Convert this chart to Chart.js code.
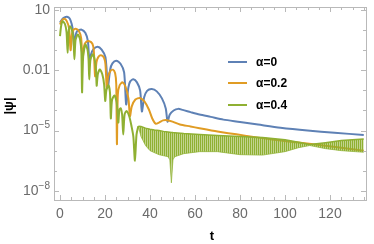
<!DOCTYPE html>
<html>
<head>
<meta charset="utf-8">
<script src="https://cdn.jsdelivr.net/npm/chart.js@4.4.1/dist/chart.umd.min.js"></script>
<style>
  html, body { margin: 0; padding: 0; background: #fff; }
  #wrap { width: 374px; height: 244px; }
</style>
</head>
<body>
<div id="wrap"><canvas id="psiChart" width="374" height="244"></canvas></div>
<script>
// --- DONNEES ---
const seriesLabels = ["α=0", "α=0.2", "α=0.4"];
const seriesColors = ["rgb(94,129,181)", "rgb(224,156,36)", "rgb(143,176,50)"];

const blueT = [0, 1.0, 2.0, 3.1, 4.3, 5.2, 5.8, 6.3, 6.8, 7.6, 9.6, 11.3, 12.4, 13.1, 13.8, 14.8, 16.7, 18.5, 20.2, 21.3,
  22.3, 23.3, 25.0, 26.9, 28.5, 29.4, 30.4, 31.2, 32.6, 34.2, 35.6, 36.4, 37.4, 38.7, 40.8, 43.0, 45.3, 47.0, 47.8,
  48.8, 50.5, 52.5, 54.5, 58, 62, 67, 72.6, 80, 88, 98, 110, 122, 135];
const blueY = [2.4, 3.5, 4.3, 4.6, 3.8, 2.0, 0.79, 0.13, 0.45, 0.89, 1.05, 0.71, 0.28, 0.025, 0.063, 0.11, 0.15, 0.107, 0.045, 1.6e-3,
  0.011, 0.022, 0.030, 0.021, 7.9e-3, 2.0e-4, 1.4e-3, 2.8e-3, 3.6e-3, 2.5e-3, 1.0e-3, 8.9e-5, 4.5e-4, 9.5e-4, 1.17e-3, 8.9e-4, 4.0e-4, 1.26e-4, 2.8e-5,
  6.3e-5, 1.0e-4, 1.2e-4, 1.07e-4, 8.3e-5, 6.3e-5, 4.8e-5, 3.5e-5, 2.7e-5, 2.0e-5, 1.38e-5, 1.0e-5, 7.8e-6, 6.0e-6];

const orangeT = [0, 0.8, 1.9, 3.0, 4.0, 4.7, 5.3, 5.9, 7.0, 8.4, 9.4, 10.0, 10.7, 11.5, 13.0, 14.4, 15.0, 15.6, 16.2, 17.0,
  18.2, 19.5, 20.2, 20.8, 21.4, 22.3, 23.5, 24.5, 25.0, 25.3, 25.7, 26.5, 27.8, 29.2, 30.4, 31.1, 31.9, 33.5, 35.5,
  37.5, 39.5, 41.0, 42.5, 44.0, 45.8, 47.5, 50.0, 53.3, 58, 62, 70, 83, 95, 105, 112.6, 125, 135];
const orangeY = [1.9, 3.0, 3.7, 2.8, 1.26, 0.1, 0.63, 1.0, 1.17, 0.89, 0.4, 0.032, 0.16, 0.25, 0.28, 0.21, 0.1, 5.0e-3, 0.025, 0.045,
  0.056, 0.043, 0.020, 1.26e-3, 5.0e-3, 8.9e-3, 0.0107, 7.1e-3, 2.0e-3, 2.1e-6, 6.3e-4, 1.8e-3, 2.5e-3, 1.4e-3, 4.0e-4, 5.2e-5, 1.6e-4, 3.5e-4, 4.2e-4,
  2.8e-4, 1.12e-4, 4.0e-5, 2.2e-5, 2.5e-5, 3.2e-5, 3.3e-5, 2.8e-5, 2.0e-5, 1.6e-5, 1.3e-5, 8.9e-6, 5.4e-6, 3.5e-6, 2.6e-6, 2.1e-6, 1.4e-6, 1.0e-6];

const greenT = [0, 0.5, 1.2, 2.2, 2.9, 3.4, 3.8, 4.4, 5.3, 6.0, 6.4, 6.9, 7.9, 8.9, 9.5, 9.8, 10.3, 11.3, 12.2, 12.7,
  13.0, 13.5, 14.5, 15.4, 16.0, 16.3, 16.8, 17.7, 18.8, 19.6, 20.1, 20.6, 21.5, 22.2, 22.6, 23.1, 24.2, 25.2, 25.9,
  26.4, 27.0, 27.6, 28.1, 28.7, 29.6, 30.8, 31.8, 32.6, 33.3, 34.0, 34.8];
const greenY = [0.5, 1.6, 2.75, 2.0, 0.79, 0.074, 0.79, 1.55, 1.0, 0.32, 0.035, 0.32, 0.6, 0.35, 0.079, 7.9e-4, 0.05, 0.19, 0.11, 0.032,
  3.5e-3, 0.032, 0.062, 0.035, 0.01, 1.7e-3, 6.3e-3, 0.011, 6.3e-3, 2.0e-3, 3.0e-4, 1.0e-3, 1.8e-3, 7.9e-4, 4.0e-5, 3.2e-4, 5.6e-4, 2.5e-4, 2.5e-5,
  1.1e-4, 1.3e-4, 6.3e-5, 6.3e-6, 6.3e-5, 9.3e-5, 5.0e-5, 1.6e-5, 5.0e-6, 3.2e-7, 6.3e-6, 1.66e-5];

// bande d'oscillation rapide (alpha=0.4) : enveloppes haute et basse
const bandT = [34.8, 36, 38, 40, 42, 44, 46, 48, 48.8, 49.5, 50.2, 51, 55, 62, 70, 80, 90, 100, 106, 111, 118, 125, 135];
const bandHi = [1.66e-5, 1.58e-5, 1.32e-5, 1.17e-5, 1.07e-5, 1.0e-5, 9.1e-6, 8.5e-6, 8.3e-6, 8.1e-6, 7.9e-6, 7.8e-6, 7.1e-6,
  6.3e-6, 5.6e-6, 5.0e-6, 4.5e-6, 3.5e-6, 2.6e-6, 2.0e-6, 2.5e-6, 3.2e-6, 3.8e-6];
const bandLo = [1.66e-5, 5.0e-6, 1.8e-6, 1.0e-6, 7.9e-7, 6.3e-7, 5.6e-7, 5.0e-7, 3.5e-7, 2.5e-8, 3.5e-7, 5.0e-7, 7.1e-7,
  8.9e-7, 8.9e-7, 6.3e-7, 6.0e-7, 8.9e-7, 1.4e-6, 1.8e-6, 1.26e-6, 1.0e-6, 8.3e-7];

const xMajor = [0, 20, 40, 60, 80, 100, 120];
const xMinor = [5, 10, 15, 25, 30, 35, 45, 50, 55, 65, 70, 75, 85, 90, 95, 105, 110, 115, 125, 130, 135];
const yDecades = [1e-8, 1e-7, 1e-6, 1e-5, 1e-4, 1e-3, 1e-2, 1e-1, 1, 10];
const yLabels = [[10, "10", ""], [0.01, "0.01", ""], [1e-5, "10", "−5"], [1e-8, "10", "−8"]];

function toPoints(ts, vs) {
  return ts.map((t, i) => ({ x: t, y: vs[i] }));
}

const frameColor = "#b9b9b9";
const labelColor = "#6b6b6b";
const fontFam = "'Liberation Sans', Arial, sans-serif";

// hachures verticales pour la bande (aspect des oscillations rapides)
function stripePattern() {
  const c = document.createElement("canvas");
  c.width = 2; c.height = 4;
  const g = c.getContext("2d");
  g.fillStyle = "rgb(143,176,50)";
  g.fillRect(0, 0, 1, 4);
  g.fillStyle = "rgba(143,176,50,0.55)";
  g.fillRect(1, 0, 1, 4);
  return g.createPattern(c, "repeat");
}

// cadre, graduations, etiquettes et legende facon Mathematica
const framePlugin = {
  id: "frame",
  afterDraw(chart) {
    const ctx = chart.ctx;
    const a = chart.chartArea;
    const xs = chart.scales.x;
    const ys = chart.scales.y;
    ctx.save();
    ctx.strokeStyle = frameColor;
    ctx.lineWidth = 1;
    ctx.strokeRect(Math.round(a.left) + 0.5, Math.round(a.top) + 0.5,
      Math.round(a.right - a.left), Math.round(a.bottom - a.top));

    ctx.beginPath();
    const tickX = (v, len) => {
      const p = Math.round(xs.getPixelForValue(v)) + 0.5;
      ctx.moveTo(p, a.bottom); ctx.lineTo(p, a.bottom - len);
      ctx.moveTo(p, a.top); ctx.lineTo(p, a.top + len);
    };
    xMajor.forEach(v => tickX(v, 5));
    xMinor.forEach(v => tickX(v, 3));
    yDecades.forEach(v => {
      const p = Math.round(ys.getPixelForValue(v)) + 0.5;
      const len = yLabels.some(l => l[0] === v) ? 5 : 3;
      ctx.moveTo(a.left, p); ctx.lineTo(a.left + len, p);
      ctx.moveTo(a.right, p); ctx.lineTo(a.right - len, p);
    });
    ctx.stroke();

    // etiquettes x
    ctx.fillStyle = labelColor;
    ctx.font = "14px " + fontFam;
    ctx.textAlign = "center";
    ctx.textBaseline = "middle";
    xMajor.forEach(v => ctx.fillText(String(v), xs.getPixelForValue(v), 214));

    // etiquettes y (avec exposants)
    ctx.textAlign = "right";
    yLabels.forEach(([v, base, sup]) => {
      const p = ys.getPixelForValue(v);
      let right = 50;
      if (sup) {
        ctx.font = "10px " + fontFam;
        ctx.fillText(sup, right, p - 5);
        right -= ctx.measureText(sup).width;
      }
      ctx.font = "14px " + fontFam;
      ctx.fillText(base, right, p);
    });

    // titres des axes
    ctx.fillStyle = "#000";
    ctx.font = "bold 13px " + fontFam;
    ctx.textAlign = "center";
    ctx.fillText("t", 212, 236);
    ctx.save();
    ctx.translate(9, 106);
    ctx.rotate(-Math.PI / 2);
    ctx.fillText("|ψ|", 0, 0);
    ctx.restore();

    // legende
    const rows = [62, 83, 105];
    ctx.textAlign = "left";
    ctx.font = "bold 12px " + fontFam;
    seriesLabels.forEach((lab, i) => {
      ctx.strokeStyle = seriesColors[i];
      ctx.lineWidth = 2;
      ctx.beginPath();
      ctx.moveTo(228, rows[i]); ctx.lineTo(247, rows[i]);
      ctx.stroke();
      ctx.fillStyle = "#000";
      ctx.fillText(lab, 256, rows[i] + 1);
    });
    ctx.restore();
  }
};

const ctx = document.getElementById("psiChart").getContext("2d");
const psiChart = new Chart(ctx, {
  type: "line",
  data: {
    datasets: [
      { label: seriesLabels[0], data: toPoints(blueT, blueY), borderColor: seriesColors[0], borderWidth: 2, order: 3, tension: 0.25 },
      { label: seriesLabels[1], data: toPoints(orangeT, orangeY), borderColor: seriesColors[1], borderWidth: 2, order: 2, tension: 0.25 },
      { label: seriesLabels[2], data: toPoints(greenT, greenY), borderColor: seriesColors[2], borderWidth: 2, order: 1, tension: 0.25 },
      { label: "band-hi", data: toPoints(bandT, bandHi), borderColor: seriesColors[2], borderWidth: 1.5, order: 0, tension: 0 },
      { label: "band-lo", data: toPoints(bandT, bandLo), borderColor: "rgba(143,176,50,0.7)", borderWidth: 1, order: 0, tension: 0,
        fill: 3, backgroundColor: stripePattern() }
    ]
  },
  options: {
    responsive: false,
    animation: false,
    events: [],
    layout: { padding: { top: 7, right: 8, left: 0, bottom: 0 } },
    elements: { point: { radius: 0 } },
    plugins: { legend: { display: false }, tooltip: { enabled: false } },
    scales: {
      x: {
        type: "linear", min: -2.67, max: 136,
        grid: { display: false, drawTicks: false },
        border: { display: false },
        ticks: { display: false },
        afterFit: s => { s.height = 44; }
      },
      y: {
        type: "logarithmic", min: 3.5e-9, max: 14.1,
        grid: { display: false, drawTicks: false },
        border: { display: false },
        ticks: { display: false },
        afterFit: s => { s.height; s.width = 54; }
      }
    }
  },
  plugins: [framePlugin]
});
</script>
</body>
</html>
